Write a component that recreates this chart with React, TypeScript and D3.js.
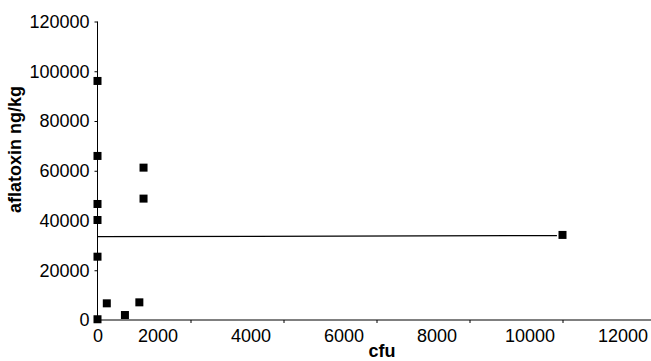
import React, { useEffect, useRef } from 'react'
import * as d3 from 'd3'

// scatter data
const cfu = [0, 0, 0, 0, 0, 0, 200, 590, 900, 990, 990, 10000]
const aflatoxin = [96100, 65950, 46640, 40200, 25450, 300, 6700, 2000, 7100, 61250, 48800, 34200]

// fitted trend line, two ends
const trendCfu = [0, 9880]
const trendAflatoxin = [33500, 33950]

const xTicks = [0, 2000, 4000, 6000, 8000, 10000, 12000]
const yTicks = [0, 20000, 40000, 60000, 80000, 100000, 120000]

const W = 651
const H = 361

export default function App() {
  const ref = useRef<SVGSVGElement>(null)

  useEffect(() => {
    const svg = d3.select(ref.current)
    svg.selectAll('*').remove()

    const x = d3.scaleLinear().domain([0, 12000]).range([97.5, 655.5])
    const y = d3.scaleLinear().domain([0, 120000]).range([320, 21.5])
    const font = 'Liberation Sans, Arial, sans-serif'

    // y axis
    const yAxis = svg.append('g')
      .attr('transform', `translate(${x(0)},0)`)
      .call(d3.axisLeft(y).tickValues(yTicks).tickSize(3).tickPadding(5).tickFormat(d3.format('d')))
    yAxis.select('.domain').attr('d', `M0,${y(120000)}V${y(0)}`).attr('stroke', '#000')
    yAxis.selectAll('.tick line').attr('stroke', '#000')
    yAxis.selectAll('.tick text')
      .attr('font-family', font).attr('font-size', 18).attr('fill', '#000')

    // x axis
    const xAxis = svg.append('g')
      .attr('transform', `translate(0,${y(0)})`)
      .call(d3.axisBottom(x).tickValues(xTicks).tickSize(3).tickPadding(6).tickFormat(d3.format('d')))
    xAxis.select('.domain').attr('d', `M${x(0)},0H${W}`).attr('stroke', '#000')
    xAxis.selectAll('.tick line').attr('stroke', '#000')
    xAxis.selectAll<SVGTextElement, number>('.tick text')
      .attr('font-family', font).attr('font-size', 18).attr('fill', '#000')
      .attr('dx', d => (d === 0 ? 0 : -33))

    // trend line
    const line = d3.line<number>().x(i => x(trendCfu[i])).y(i => y(trendAflatoxin[i]))
    svg.append('path')
      .attr('d', line(d3.range(trendCfu.length)))
      .attr('fill', 'none').attr('stroke', '#000').attr('stroke-width', 1.3)

    // points
    const s = 8
    svg.append('g').selectAll('rect')
      .data(d3.range(cfu.length))
      .join('rect')
      .attr('x', i => x(cfu[i]) - s / 2)
      .attr('y', i => y(aflatoxin[i]) - s / 2)
      .attr('width', s).attr('height', s)
      .attr('fill', '#000')

    // axis titles
    svg.append('text')
      .attr('x', 382).attr('y', 357)
      .attr('text-anchor', 'middle')
      .attr('font-family', font).attr('font-size', 18).attr('font-weight', 'bold')
      .text('cfu')
    svg.append('text')
      .attr('transform', 'translate(21,149.5) rotate(-90)')
      .attr('text-anchor', 'middle')
      .attr('font-family', font).attr('font-size', 18).attr('font-weight', 'bold')
      .text('aflatoxin ng/kg')
  }, [])

  return (
    <svg ref={ref} width={W} height={H}
      style={{ position: 'absolute', left: 0, top: 0, background: '#fff' }} />
  )
}
